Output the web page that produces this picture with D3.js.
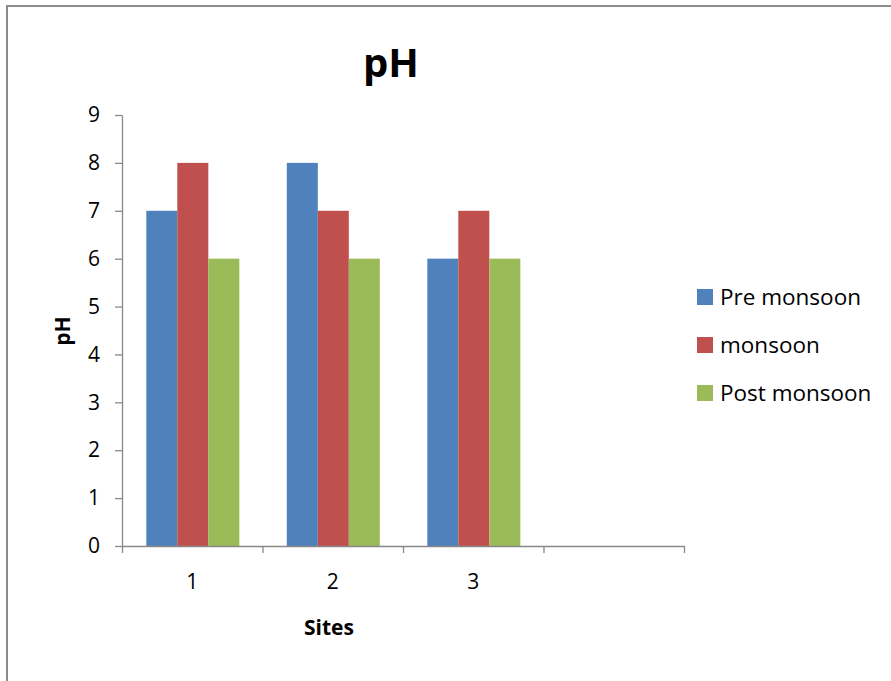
<!DOCTYPE html>
<html>
<head>
<meta charset="utf-8">
<script src="https://cdn.jsdelivr.net/npm/d3@7"></script>
<style>
  body { margin: 0; background: #fff; }
  text { font-family: "Open Sans", sans-serif; fill: #000; }
</style>
</head>
<body>
<div id="painting"></div>
<script>
// chart data
var sites = ["1", "2", "3", ""];
var seriesNames = ["Pre monsoon", "monsoon", "Post monsoon"];
var preMonsoon = [7, 8, 6];
var monsoon = [8, 7, 7];
var postMonsoon = [6, 6, 6];
var yTicks = [0, 1, 2, 3, 4, 5, 6, 7, 8, 9];

var colours = ["#4F81BD", "#C0504D", "#9BBB59"];
var allSeries = [preMonsoon, monsoon, postMonsoon];

var W = 891, H = 681;
var margin = {top: 115, right: 207, bottom: 135, left: 122};

var svg = d3.select("#painting")
  .append("svg")
  .attr("width", W)
  .attr("height", H);

// outer frame
svg.append("rect")
  .attr("x", 7).attr("y", 6)
  .attr("width", W + 10).attr("height", H + 10)
  .attr("fill", "none")
  .attr("stroke", "#8c8c8c")
  .attr("stroke-width", 2);

var xScale = d3.scaleBand()
  .domain(sites)
  .range([margin.left, W - margin.right])
  .paddingInner(0)
  .paddingOuter(0);

var bw = xScale.bandwidth();
var xInner = d3.scaleBand()
  .domain(d3.range(seriesNames.length))
  .range([bw * 0.173, bw * 0.835]);

var yScale = d3.scaleLinear()
  .domain([0, 9])
  .range([H - margin.bottom, margin.top]);

// bars
var groups = svg.selectAll("g.series")
  .data(allSeries)
  .enter()
  .append("g")
  .attr("class", "series")
  .attr("fill", function(d, i) { return colours[i]; });

groups.each(function(vals, si) {
  d3.select(this).selectAll("rect")
    .data(vals)
    .enter()
    .append("rect")
    .attr("x", function(d, i) { return xScale(sites[i]) + xInner(si); })
    .attr("y", function(d) { return yScale(d); })
    .attr("width", xInner.bandwidth())
    .attr("height", function(d) { return yScale(0) - yScale(d); });
});

// y axis
var yAxis = d3.axisLeft(yScale)
  .tickValues(yTicks)
  .tickSize(7)
  .tickSizeOuter(0)
  .tickPadding(15);

var gy = svg.append("g")
  .attr("transform", "translate(" + margin.left + ",0)")
  .call(yAxis);
gy.selectAll("path, line").attr("stroke", "#888").attr("stroke-width", 1.3);
gy.selectAll("text")
  .style("font-family", "'Open Sans', sans-serif")
  .style("font-size", "21px")
  .attr("fill", "#000");

// x axis: line plus boundary ticks
var xEdges = d3.scaleLinear().domain([0, sites.length]).range(xScale.range());
var gx = svg.append("g")
  .attr("transform", "translate(0," + yScale(0) + ")")
  .call(d3.axisBottom(xEdges).ticks(sites.length).tickFormat("").tickSize(7).tickSizeOuter(0));
gx.selectAll("path, line").attr("stroke", "#888").attr("stroke-width", 1.3);

svg.append("g").selectAll("text")
  .data(sites)
  .enter()
  .append("text")
  .attr("x", function(d) { return xScale(d) + bw / 2; })
  .attr("y", 589)
  .attr("text-anchor", "middle")
  .style("font-size", "21px")
  .text(function(d) { return d; });

// titles
svg.append("text")
  .attr("x", 391).attr("y", 77)
  .attr("text-anchor", "middle")
  .style("font-size", "40px")
  .style("font-weight", "bold")
  .text("pH");

svg.append("text")
  .attr("x", 329).attr("y", 635)
  .attr("text-anchor", "middle")
  .style("font-size", "21px")
  .style("font-weight", "bold")
  .text("Sites");

svg.append("text")
  .attr("transform", "translate(70,331) rotate(-90)")
  .attr("text-anchor", "middle")
  .style("font-size", "21px")
  .style("font-weight", "bold")
  .text("pH");

// legend
var legend = svg.append("g").selectAll("g")
  .data(seriesNames)
  .enter()
  .append("g")
  .attr("transform", function(d, i) { return "translate(697," + (297 + i * 48) + ")"; });

legend.append("rect")
  .attr("x", 0).attr("y", -8)
  .attr("width", 16).attr("height", 16)
  .attr("fill", function(d, i) { return colours[i]; });

legend.append("text")
  .attr("x", 23).attr("y", 0)
  .attr("dy", "0.36em")
  .style("font-size", "22.5px")
  .text(function(d) { return d; });
</script>
</body>
</html>
